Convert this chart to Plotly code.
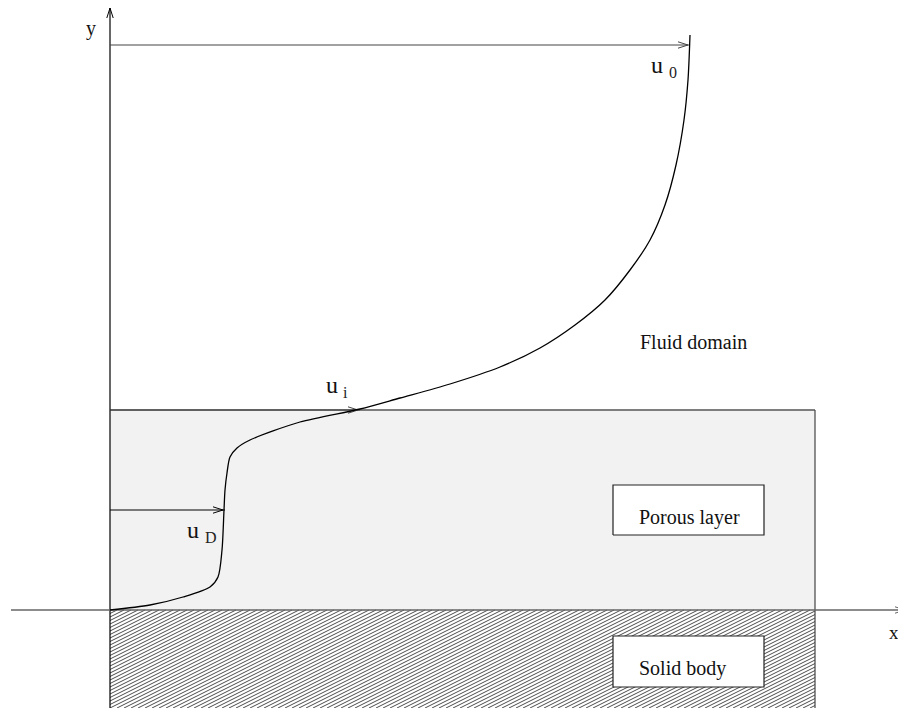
import numpy as np
import plotly.graph_objects as go

# ---- data (diagram units: origin at the wall, x = velocity, y = height) ----
curve_x = [0, 40, 73, 100, 108, 112, 114, 115, 117, 120, 127, 140, 190, 250, 290, 340, 390, 430, 465, 495, 520, 540, 555, 566, 574, 578, 580]
curve_y = [0, 5, 13, 23, 33, 60, 100, 120, 137, 153, 162, 170, 188, 201, 212, 226, 243, 262, 285, 310, 340, 370, 405, 445, 490, 530, 575]

arrow_heights = [565, 200, 100]     # y of velocity arrows
arrow_speeds = [580, 250, 115]      # u0, ui, uD
arrow_names = ["0", "i", "D"]

layer_top = 200          # porous layer thickness
plate_length = 705       # extent of porous layer / solid body
solid_depth = -98        # visible depth of solid body
yaxis_top = 602
xaxis_left, xaxis_right = -99, 795

box_porous = dict(x0=503, x1=654, y0=75, y1=125, label="Porous layer", tx=579, ty=93)
box_solid = dict(x0=503, x1=654, y0=-77, y1=-26, label="Solid body", tx=572, ty=-58)

FONT = "Liberation Serif"

fig = go.Figure()

def add_line(xs, ys, color="black", width=1.0):
    fig.add_trace(go.Scatter(x=xs, y=ys, mode="lines",
                             line=dict(color=color, width=width),
                             hoverinfo="skip", showlegend=False, cliponaxis=False))

def arrow_head(xt, yt, direction, L=10, w=3.2, color="black", width=1.0):
    if direction == "right":
        xs = [xt - L, xt, xt - L]; ys = [yt + w, yt, yt - w]
    else:  # up
        xs = [xt - w, xt, xt + w]; ys = [yt - L, yt, yt - L]
    add_line(xs, ys, color, width)

# porous layer fill
fig.add_trace(go.Scatter(x=[0, plate_length, plate_length, 0, 0],
                         y=[0, 0, layer_top, layer_top, 0],
                         fill="toself", fillcolor="#f2f2f2", mode="lines",
                         line=dict(width=0), hoverinfo="skip", showlegend=False))

# hatching of the solid body
m = 0.5
step = 7.0
hx, hy = [], []
for c in np.arange(-(-solid_depth) / m, plate_length, step):
    xa, xb = c, c + (-solid_depth) / m
    xa_c, xb_c = max(xa, 0), min(xb, plate_length)
    if xb_c <= xa_c:
        continue
    ya = solid_depth + m * (xa_c - c)
    yb = solid_depth + m * (xb_c - c)
    hx += [xa_c, xb_c, None]
    hy += [ya, yb, None]
add_line(hx, hy, color="#2a2a2a", width=0.85)

# boxes
for b in (box_porous, box_solid):
    fig.add_trace(go.Scatter(x=[b["x0"], b["x1"], b["x1"], b["x0"], b["x0"]],
                             y=[b["y0"], b["y0"], b["y1"], b["y1"], b["y0"]],
                             fill="toself", fillcolor="white", mode="lines",
                             line=dict(color="#222", width=1.2),
                             hoverinfo="skip", showlegend=False))
    fig.add_annotation(x=b["tx"], y=b["ty"], text=b["label"], showarrow=False,
                       font=dict(family=FONT, size=20, color="#111"))

# porous layer borders
add_line([0, plate_length], [layer_top, layer_top], color="#555", width=1.4)
add_line([plate_length, plate_length], [layer_top, solid_depth], color="#444", width=1.2)
add_line([0, 0], [0, solid_depth], color="black", width=1.2)

# axes
add_line([0, 0], [0, yaxis_top], color="black", width=1.2)
arrow_head(0, yaxis_top, "up")
add_line([xaxis_left, xaxis_right], [0, 0], color="#666", width=1.6)
arrow_head(xaxis_right, 0, "right", color="#666")

# velocity arrows
for yv, uv in zip(arrow_heights, arrow_speeds):
    col = "#444" if yv != arrow_heights[2] else "black"
    add_line([0, uv], [yv, yv], color=col, width=1.2)
    arrow_head(uv - 2, yv, "right", color=col)

# velocity profile
fig.add_trace(go.Scatter(x=curve_x, y=curve_y, mode="lines",
                         line=dict(color="black", width=1.3, shape="spline", smoothing=0.8),
                         hoverinfo="skip", showlegend=False))

# labels
label_pos = {"0": (547, 545, 16), "i": (222, 225, 13), "D": (83, 80, 18)}
for name in arrow_names:
    lx, ly, dx = label_pos[name]
    fig.add_annotation(x=lx, y=ly, text="u", showarrow=False, xanchor="center", yanchor="middle",
                       font=dict(family=FONT, size=24, color="#111"))
    fig.add_annotation(x=lx + dx, y=ly - 7, text=name, showarrow=False,
                       xanchor="center", yanchor="middle",
                       font=dict(family=FONT, size=16, color="#222"))

fig.add_annotation(x=-19, y=582, text="y", showarrow=False,
                   font=dict(family=FONT, size=20, color="#111"))
fig.add_annotation(x=784, y=-22, text="x", showarrow=False,
                   font=dict(family=FONT, size=19, color="#111"))
fig.add_annotation(x=583, y=268, text="Fluid domain", showarrow=False,
                   font=dict(family=FONT, size=20, color="#111"))

# page body has an 8px margin; size and shift so the drawing lands where intended without overflow
fig.update_layout(width=898, height=700, margin=dict(l=0, r=0, t=0, b=0),
                  paper_bgcolor="white", plot_bgcolor="white",
                  xaxis=dict(range=[-102, 796], visible=False, fixedrange=True),
                  yaxis=dict(range=[-98, 602], visible=False, fixedrange=True),
                  showlegend=False)

fig.write_html("out.html")
